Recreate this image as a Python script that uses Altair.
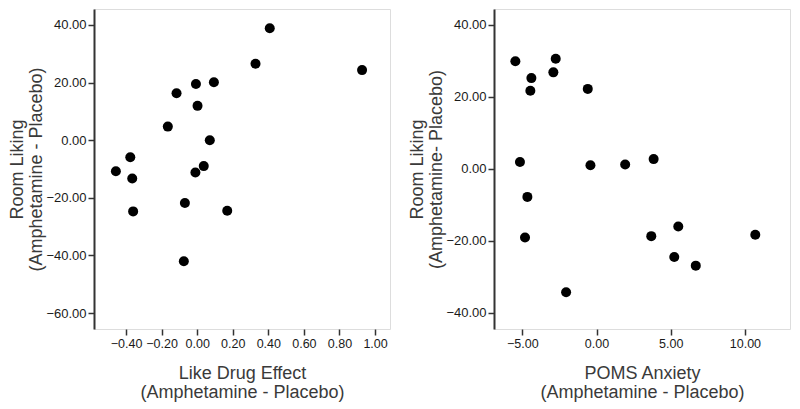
import altair as alt
import pandas as pd

# Left panel: Like Drug Effect vs Room Liking
like_drug = [0.408, 0.328, 0.927, -0.007, 0.094, -0.116, 0.002, -0.165, 0.071,
             -0.376, -0.457, -0.365, -0.360, 0.037, -0.010, -0.069, 0.169, -0.075]
room_left = [38.8, 26.5, 24.3, 19.5, 20.1, 16.3, 11.9, 4.7, 0.0,
             -5.9, -10.8, -13.3, -24.7, -9.0, -11.2, -21.8, -24.5, -42.0]

# Right panel: POMS Anxiety vs Room Liking
poms = [-5.47, -2.75, -2.91, -4.39, -4.46, -0.59, -5.16, -0.41, 1.93,
        3.85, -4.66, -4.82, -2.05, 3.69, 5.51, 5.24, 6.69, 10.70]
room_right = [29.9, 30.6, 26.8, 25.2, 21.7, 22.2, 1.9, 1.0, 1.2,
              2.7, -7.8, -19.1, -34.3, -18.7, -16.0, -24.5, -26.9, -18.3]

left_x_ticks = [-0.4, -0.2, 0.0, 0.2, 0.4, 0.6, 0.8, 1.0]
left_y_ticks = [40, 20, 0, -20, -40, -60]
right_x_ticks = [-5, 0, 5, 10]
right_y_ticks = [40, 20, 0, -20, -40]

df_l = pd.DataFrame({"x": like_drug, "y": room_left})
df_r = pd.DataFrame({"x": poms, "y": room_right})

FONT = "Liberation Sans"


def axis(values, title, orient):
    kw = dict(
        values=values,
        format=".2f",
        title=title,
        grid=False,
        ticks=True,
        tickSize=6,
        tickWidth=1.5,
        tickColor="#333333",
        labelFont=FONT,
        labelColor="#1a1a1a",
        labelPadding=2,
        titleFont=FONT,
        titleFontSize=18,
        titleLineHeight=19,
        titleFontWeight="normal",
        titleColor="#3a3a3a",
        labelFlush=False,
        labelOverlap=False,
    )
    if orient == "left":
        kw.update(domain=True, domainColor="#333333", domainWidth=2,
                  titlePadding=0, labelFontSize=13)
    else:
        kw.update(domain=False, titlePadding=15, labelFontSize=12.5)
    return alt.Axis(**kw)


def panel(df, xdom, ydom, xt, yt, xtitle, ytitle):
    return (
        alt.Chart(df)
        .mark_circle(size=100, color="black", opacity=1)
        .encode(
            x=alt.X("x:Q", scale=alt.Scale(domain=xdom, nice=False, zero=False),
                    axis=axis(xt, xtitle, "bottom")),
            y=alt.Y("y:Q", scale=alt.Scale(domain=ydom, nice=False, zero=False),
                    axis=axis(yt, ytitle, "left")),
        )
        .properties(width=296, height=320)
    )


left = panel(df_l, [-0.58, 1.084], [-65.5, 45.5], left_x_ticks, left_y_ticks,
             ["Like Drug Effect", "(Amphetamine - Placebo)"],
             ["Room Liking", "(Amphetamine - Placebo)"])
right = panel(df_r, [-6.91, 13.04], [-44.5, 44.4], right_x_ticks, right_y_ticks,
              ["POMS Anxiety", "(Amphetamine - Placebo)"],
              ["Room Liking", "(Amphetamine- Placebo)"])

chart = (
    alt.hconcat(left, right, spacing=104, bounds="flush")
    .configure_view(stroke="#777777", strokeWidth=1.2)
    .configure(background="white")
    .properties(padding={"left": 0, "top": 0, "right": 0, "bottom": 0})
)

chart.save("out.html", embed_options={"renderer": "svg", "actions": False})
